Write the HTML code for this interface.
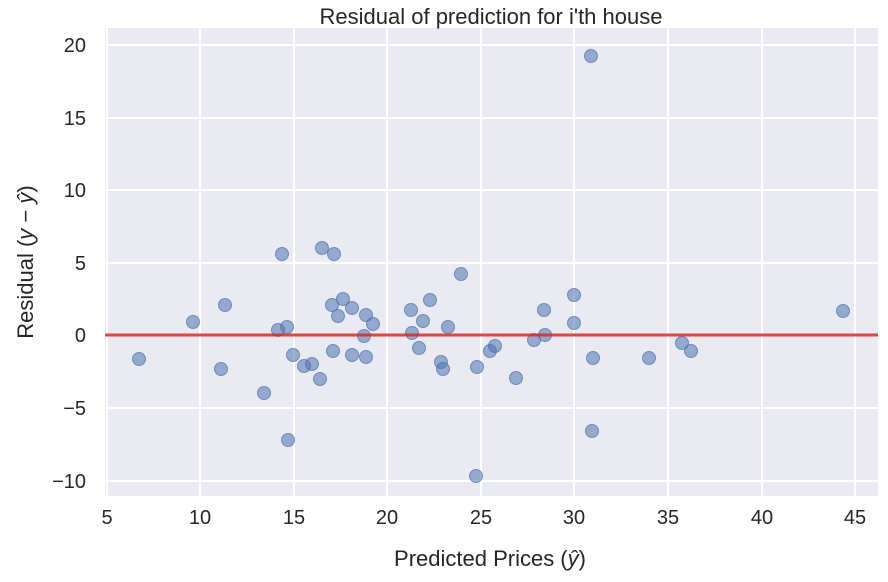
<!DOCTYPE html>
<html><head><style>body{margin:0;background:#fff}svg{display:block}</style></head><body>
<svg width="888" height="582" xmlns="http://www.w3.org/2000/svg" font-family="Liberation Sans, sans-serif">
<rect x="105" y="28" width="773" height="468" fill="#eaeaf2"/>
<g stroke="#fff" stroke-width="2">
<line x1="107" y1="28" x2="107" y2="496"/><line x1="200" y1="28" x2="200" y2="496"/><line x1="294" y1="28" x2="294" y2="496"/><line x1="387" y1="28" x2="387" y2="496"/><line x1="481" y1="28" x2="481" y2="496"/><line x1="574" y1="28" x2="574" y2="496"/><line x1="668" y1="28" x2="668" y2="496"/><line x1="762" y1="28" x2="762" y2="496"/><line x1="855" y1="28" x2="855" y2="496"/>
<line x1="105" y1="45" x2="878" y2="45"/><line x1="105" y1="118" x2="878" y2="118"/><line x1="105" y1="190" x2="878" y2="190"/><line x1="105" y1="263" x2="878" y2="263"/><line x1="105" y1="335" x2="878" y2="335"/><line x1="105" y1="408" x2="878" y2="408"/><line x1="105" y1="481" x2="878" y2="481"/>
</g>
<g fill="#4c72b0" fill-opacity="0.55" stroke="#4c72b0" stroke-opacity="0.7" stroke-width="1">
<circle cx="139" cy="359" r="6.5"/><circle cx="193" cy="322" r="6.5"/><circle cx="225" cy="305" r="6.5"/><circle cx="221" cy="369" r="6.5"/><circle cx="264" cy="393" r="6.5"/><circle cx="278" cy="330" r="6.5"/><circle cx="282" cy="254" r="6.5"/><circle cx="287" cy="327" r="6.5"/><circle cx="288" cy="440" r="6.5"/><circle cx="293" cy="355" r="6.5"/><circle cx="304" cy="366" r="6.5"/><circle cx="312" cy="364" r="6.5"/><circle cx="320" cy="379" r="6.5"/><circle cx="322" cy="248" r="6.5"/><circle cx="332" cy="305" r="6.5"/><circle cx="334" cy="254" r="6.5"/><circle cx="333" cy="351" r="6.5"/><circle cx="338" cy="316" r="6.5"/><circle cx="343" cy="299" r="6.5"/><circle cx="352" cy="308" r="6.5"/><circle cx="352" cy="355" r="6.5"/><circle cx="366" cy="315" r="6.5"/><circle cx="366" cy="357" r="6.5"/><circle cx="364" cy="336" r="6.5"/><circle cx="373" cy="324" r="6.5"/><circle cx="411" cy="310" r="6.5"/><circle cx="412" cy="333" r="6.5"/><circle cx="419" cy="348" r="6.5"/><circle cx="423" cy="321" r="6.5"/><circle cx="430" cy="300" r="6.5"/><circle cx="461" cy="274" r="6.5"/><circle cx="441" cy="362" r="6.5"/><circle cx="443" cy="369" r="6.5"/><circle cx="448" cy="327" r="6.5"/><circle cx="477" cy="367" r="6.5"/><circle cx="476" cy="476" r="6.5"/><circle cx="490" cy="351" r="6.5"/><circle cx="495" cy="346" r="6.5"/><circle cx="516" cy="378" r="6.5"/><circle cx="534" cy="340" r="6.5"/><circle cx="544" cy="310" r="6.5"/><circle cx="545" cy="335" r="6.5"/><circle cx="574" cy="295" r="6.5"/><circle cx="574" cy="323" r="6.5"/><circle cx="591" cy="56" r="6.5"/><circle cx="592" cy="431" r="6.5"/><circle cx="593" cy="358" r="6.5"/><circle cx="649" cy="358" r="6.5"/><circle cx="682" cy="343" r="6.5"/><circle cx="691" cy="351" r="6.5"/><circle cx="843" cy="311" r="6.5"/>
</g>
<line x1="105" y1="335" x2="878" y2="335" stroke="#d62728" stroke-opacity="0.85" stroke-width="3"/>
<g font-size="20" fill="#262626" text-anchor="middle">
<text x="107" y="524">5</text><text x="200" y="524">10</text><text x="294" y="524">15</text><text x="387" y="524">20</text><text x="481" y="524">25</text><text x="574" y="524">30</text><text x="668" y="524">35</text><text x="762" y="524">40</text><text x="855" y="524">45</text>
</g>
<g font-size="20" fill="#262626" text-anchor="end">
<text x="86" y="52">20</text><text x="86" y="125">15</text><text x="86" y="197">10</text><text x="86" y="270">5</text><text x="86" y="342">0</text><text x="86" y="415">−5</text><text x="86" y="488">−10</text>
</g>
<text x="491" y="24" font-size="22" fill="#262626" text-anchor="middle">Residual of prediction for i'th house</text>
<text x="490" y="566" font-size="22" fill="#262626" text-anchor="middle">Predicted Prices (<tspan font-style="italic">ŷ</tspan>)</text>
<text transform="translate(33,262) rotate(-90)" font-size="22" fill="#262626" text-anchor="middle">Residual (<tspan font-style="italic">y</tspan> − <tspan font-style="italic">ŷ</tspan>)</text>
</svg>
</body></html>
